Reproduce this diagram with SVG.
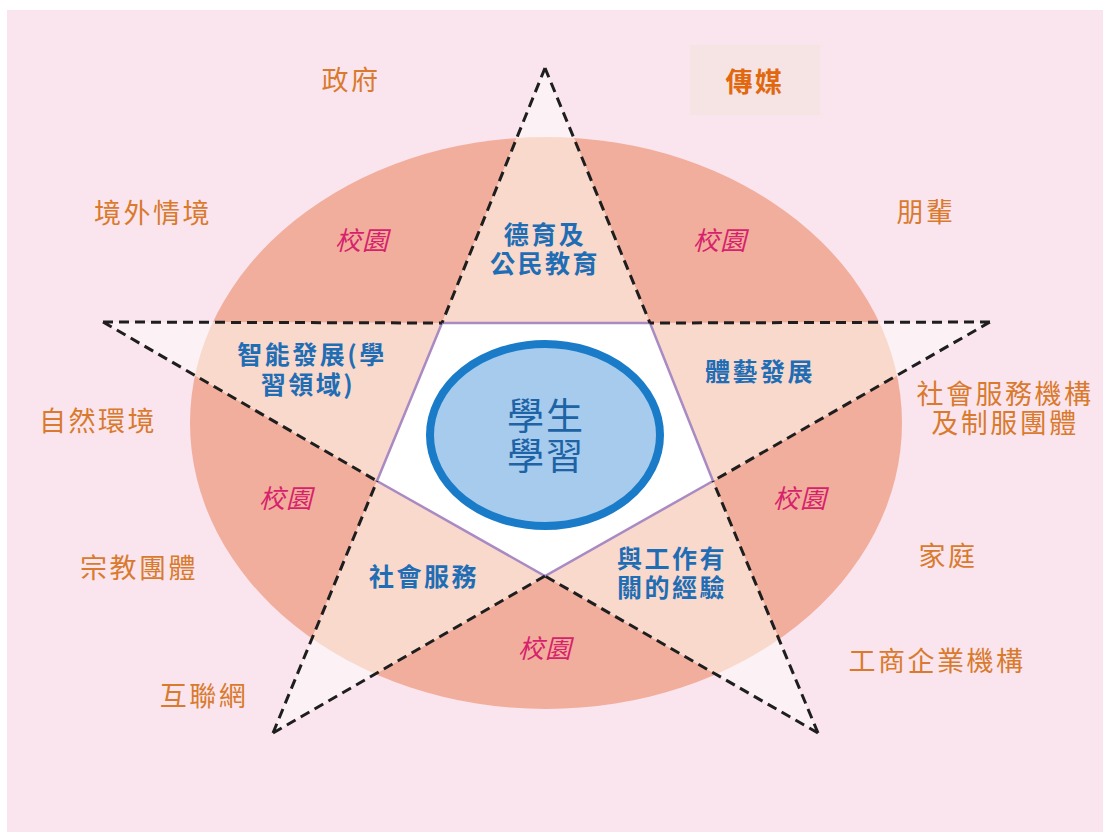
<svg xmlns="http://www.w3.org/2000/svg" width="1103" height="832" viewBox="0 0 1103 832">
<defs>
<style>
.outer{font-family:"Noto Sans CJK TC","Noto Sans CJK SC",sans-serif;font-size:27px;fill:#d97a2c;text-anchor:middle;letter-spacing:2.5px}
.blue{font-family:"Noto Sans CJK TC","Noto Sans CJK SC",sans-serif;font-size:25px;font-weight:bold;fill:#1f6db4;text-anchor:middle;letter-spacing:2.5px}
.campus{font-family:"Noto Sans CJK TC","Noto Sans CJK SC",sans-serif;font-size:26px;font-style:italic;fill:#d6226c;text-anchor:middle;letter-spacing:1px}
.center{font-family:"Noto Sans CJK TC","Noto Sans CJK SC",sans-serif;font-size:37px;fill:#1d63a6;text-anchor:middle;letter-spacing:2px}
.dash{fill:none;stroke:#1e1e1e;stroke-width:3;stroke-dasharray:10 6}
</style>
<clipPath id="ell"><ellipse cx="546" cy="423" rx="356" ry="286"/></clipPath>
</defs>
<rect x="0" y="0" width="1103" height="832" fill="#ffffff"/>
<rect x="7" y="10" width="1096" height="822" fill="#fae5ef"/>
<g id="campus-ring">
<ellipse cx="546" cy="423" rx="356" ry="286" fill="#f2ae9c"/>
</g>
<g id="star">
<polygon points="545,68 650,323 990,322 713,481 818,733 545,576 273,733 377,481 103,322 442,323" fill="#fcf1f4"/>
<polygon points="545,68 650,323 990,322 713,481 818,733 545,576 273,733 377,481 103,322 442,323" fill="#f9d9cc" clip-path="url(#ell)"/>
</g>
<g id="pentagon">
<polygon points="442,323 650,323 713,481 545,576 377,481" fill="#ffffff" stroke="#a98ac3" stroke-width="2.5"/>
</g>
<g id="connectors">
<path class="dash" d="M545,68 L442,323 M545,68 L650,323 M103,322 L442,323 M103,322 L377,481 M990,322 L650,323 M990,322 L713,481 M273,733 L377,481 M273,733 L545,576 M818,733 L545,576 M818,733 L713,481"/>
</g>
<g id="student-learning">
<ellipse cx="545" cy="435" rx="115" ry="91" fill="#a6cbec" stroke="#1a7cc8" stroke-width="8"/>
<text class="center" x="546" y="430">學生</text>
<text class="center" x="546" y="470">學習</text>
</g>
<g id="moral">
<text class="blue" x="545" y="244">德育及</text>
<text class="blue" x="545" y="273">公民教育</text>
</g>
<g id="intellectual">
<text class="blue" x="312" y="364">智能發展(學</text>
<text class="blue" x="308" y="394">習領域)</text>
</g>
<g id="arts">
<text class="blue" x="760" y="381">體藝發展</text>
</g>
<g id="service">
<text class="blue" x="424" y="586">社會服務</text>
</g>
<g id="work">
<text class="blue" x="672" y="568">與工作有</text>
<text class="blue" x="672" y="597">關的經驗</text>
</g>
<g id="campus-labels">
<text class="campus" x="362" y="250">校園</text>
<text class="campus" x="720" y="250">校園</text>
<text class="campus" x="286" y="508">校園</text>
<text class="campus" x="800" y="508">校園</text>
<text class="campus" x="545" y="658">校園</text>
</g>
<g id="government"><text class="outer" x="351" y="90">政府</text></g>
<g id="media">
<rect x="690" y="45" width="130" height="70" fill="#f5e4e3"/>
<text class="outer" x="755" y="92" style="fill:#e2680f;font-weight:bold">傳媒</text>
</g>
<g id="overseas"><text class="outer" x="153" y="223">境外情境</text></g>
<g id="peers"><text class="outer" x="926" y="222">朋輩</text></g>
<g id="nature"><text class="outer" x="98" y="431">自然環境</text></g>
<g id="social-orgs">
<text class="outer" x="1005" y="404">社會服務機構</text>
<text class="outer" x="1005" y="433">及制服團體</text>
</g>
<g id="religious"><text class="outer" x="139" y="578">宗教團體</text></g>
<g id="family"><text class="outer" x="948" y="566">家庭</text></g>
<g id="internet"><text class="outer" x="204" y="706">互聯網</text></g>
<g id="business"><text class="outer" x="937" y="671">工商企業機構</text></g>
</svg>
